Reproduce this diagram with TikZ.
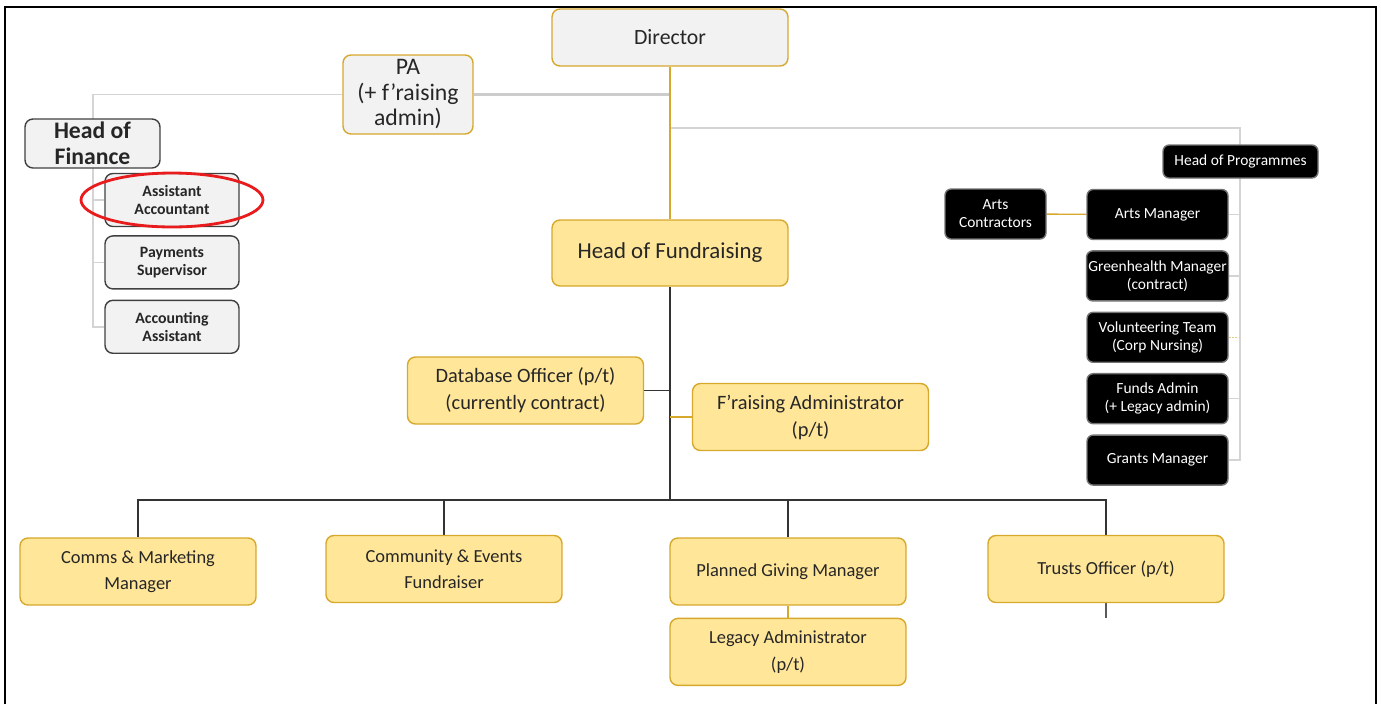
\documentclass[tikz,border=0pt]{standalone}
\usepackage{fontspec}
\setmainfont{Carlito}
\usetikzlibrary{positioning,backgrounds}
\definecolor{goldc}{RGB}{214,168,44}
\definecolor{yelfill}{RGB}{255,230,153}
\definecolor{greyfill}{RGB}{242,242,242}
\definecolor{ringred}{RGB}{232,28,28}

\begin{document}
\begin{tikzpicture}[
  x=0.02cm, y=-0.02cm,
  % --- shared box base ---
  boxbase/.style={
    rounded corners=4.5pt, inner sep=1pt,
    line width=0.8pt, align=center, text=black!85
  },
  % --- box types ---
  yel/.style={boxbase, draw=goldc, fill=yelfill, minimum width=4.72cm,
    minimum height=1.34cm, font=\fontsize{10.5}{15}\selectfont},
  lead/.style={boxbase, draw=goldc, fill=greyfill, minimum width=4.72cm,
    minimum height=1.14cm, font=\fontsize{12.4}{14}\selectfont},
  fin/.style={boxbase, draw=black!75, fill=greyfill, minimum width=2.68cm,
    minimum height=1.06cm, font=\bfseries\fontsize{9}{10.2}\selectfont},
  prog/.style={boxbase, rounded corners=3.5pt, draw=black!55, fill=black,
    text=white, minimum width=2.82cm, minimum height=1cm,
    font=\fontsize{8.8}{10.2}\selectfont},
  % --- connectors ---
  lgrey/.style={draw=black!17, line width=0.8pt},
  pagrey/.style={draw=black!20, line width=1.7pt},
  goldlink/.style={draw=goldc, line width=0.8pt},
  dkline/.style={draw=black!80, line width=0.9pt},
  frame/.style={draw=black, line width=1.3pt},
]
\useasboundingbox (0,0) rectangle (1381,704);

% ===================== FRAME =====================

\draw[frame] (5,704) -- (5,7) -- (1376,7) -- (1376,704);

% ===================== TOP =====================

\node[lead] (dir) at (670,37.5) {Director};
\node[lead, minimum width=2.6cm, minimum height=1.58cm,
  font=\fontsize{13.5}{14.5}\selectfont] (pa) at (408,94.5)
  {PA\\(+ f’raising\\admin)};

% ===================== FINANCE =====================

\node[fin, minimum width=2.7cm, minimum height=0.98cm,
  font=\bfseries\fontsize{13.5}{14.8}\selectfont] (hfin) at (92.5,143.5)
  {Head of\\Finance};
\node[fin] (asstacc) at (172,200) {Assistant\\Accountant};
\node[fin, below=0.16cm of asstacc] (paysup) {Payments\\Supervisor};
\node[fin, below=0.2cm of paysup] (acctasst) {Accounting\\Assistant};

% highlight ring
\draw[ringred, line width=1.6pt] (asstacc) ellipse [x radius=1.82cm, y radius=0.54cm];

% ===================== PROGRAMMES =====================

\node[prog, minimum width=3.1cm, minimum height=0.66cm] (hprog) at (1240.5,161.5) {Head of Programmes};
\node[prog] (artsmgr) at (1157.5,214.5) {Arts Manager};
\node[prog, below=0.2cm of artsmgr] (greenmgr) {Greenhealth Manager\\(contract)};
\node[prog, below=0.2cm of greenmgr] (volteam) {Volunteering Team\\(Corp Nursing)};
\node[prog, below=0.2cm of volteam] (fundsadm) {Funds Admin\\(+ Legacy admin)};
\node[prog, below=0.2cm of fundsadm] (grantsmgr) {Grants Manager};
\node[prog, minimum width=2.02cm] (artscon) at (995.5,214) {Arts\\Contractors};

% ===================== FUNDRAISING =====================

\node[yel, minimum height=1.32cm, font=\fontsize{13}{15}\selectfont] (hfund) at (670,253) {Head of Fundraising};
\node[yel, font=\fontsize{11.6}{15.4}\selectfont] (dbo) at (525.5,390.5) {Database Officer (p/t)\\(currently contract)};
\node[yel, font=\fontsize{11.6}{15.4}\selectfont] (fradm) at (810.5,417) {F’raising Administrator\\(p/t)};

\node[yel] (comms) at (138,571.5) {Comms \& Marketing\\Manager};
\node[yel] (commev) at (444,569) {Community \& Events\\Fundraiser};
\node[yel] (pgm) at (788,571.5) {Planned Giving Manager};
\node[yel, below=0.24cm of pgm] (legadm) {Legacy Administrator\\(p/t)};
\node[yel] (trusts) at (1106,569) {Trusts Officer (p/t)};

% ===================== CONNECTORS =====================

\begin{scope}[on background layer]
  % finance branch
  \coordinate (fbr) at (93,94.5);
  \draw[lgrey] (pa.west) -- (fbr) |- (acctasst.west);
  \draw[lgrey] (fbr |- asstacc.west) -- (asstacc.west);
  \draw[lgrey] (fbr |- paysup.west) -- (paysup.west);
  \draw[pagrey] (pa.east) -- (pa.east -| dir.south);

  % programmes branch
  \coordinate (pbr) at (670,128);
  \coordinate (pcol) at (1240,128);
  \draw[lgrey] (pbr) -- (pcol) |- (grantsmgr.east);
  \draw[lgrey] (pcol |- artsmgr.east) -- (artsmgr.east);
  \draw[lgrey] (pcol |- greenmgr.east) -- (greenmgr.east);
  \draw[goldlink, densely dotted, draw=goldc!60] (pcol |- volteam.east) -- (volteam.east);
  \draw[lgrey] (pcol |- fundsadm.east) -- (fundsadm.east);
  \draw[goldlink] (artscon) -- (artsmgr);

  % fundraising branch
  \draw[goldlink] (dir) -- (hfund);
  \coordinate (bus) at (670,500);
  \draw[dkline] (hfund) -- (bus);
  \draw[dkline] (comms.north) |- (bus) -| (trusts.north);
  \draw[dkline] (commev.north) -- (commev.north |- bus);
  \draw[dkline] (pgm.north) -- (pgm.north |- bus);
  \draw[dkline] (dbo.east) -- (dbo.east -| bus);
  \draw[goldlink] (fradm.west -| bus) -- (fradm.west);
  \draw[goldlink] (pgm) -- (legadm);
  \coordinate (tstub) at ([yshift=-0.3cm]trusts.south);
  \draw[dkline, draw=black!65] (trusts.south) -- (tstub);
\end{scope}

\end{tikzpicture}
\end{document}
